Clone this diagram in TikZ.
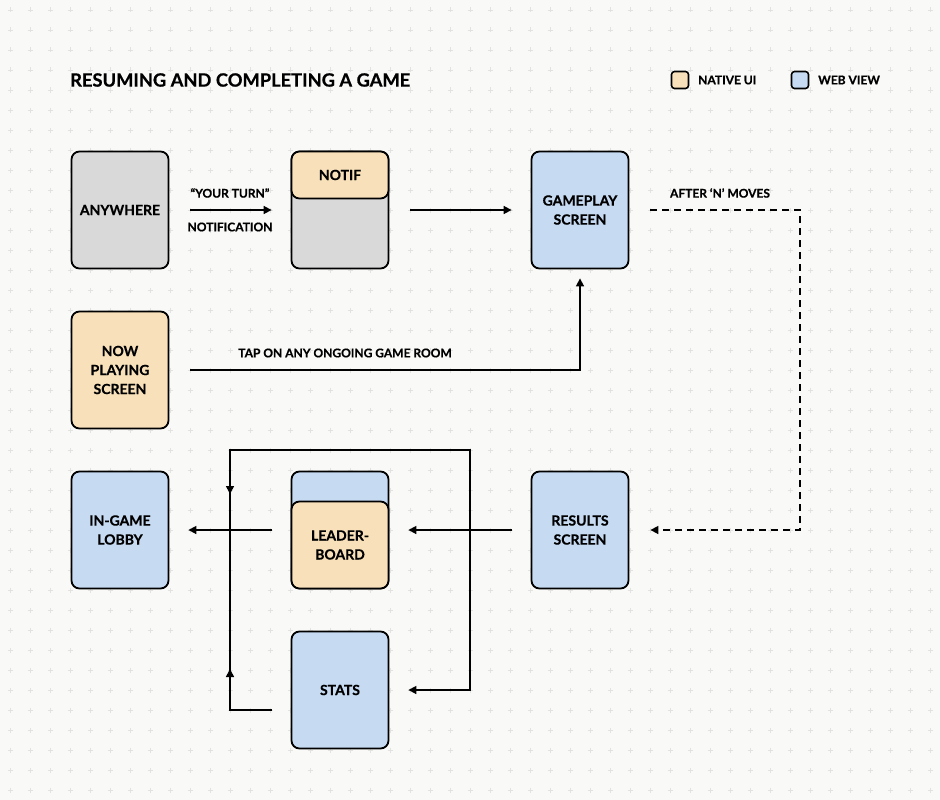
\documentclass[tikz,border=0pt]{standalone}
\usepackage{fontspec}
\setmainfont{Lato}[BoldFeatures={FakeBold=0.6}]
\usetikzlibrary{arrows.meta}
\definecolor{bgc}{HTML}{F9F9F7}
\definecolor{gridc}{HTML}{E2E2E0}
\definecolor{grayc}{HTML}{D9D9D9}
\definecolor{orangec}{HTML}{F8E1BA}
\definecolor{bluec}{HTML}{C6DAF2}
\tikzset{
  box/.style={draw=black, line width=1.8pt, rounded corners=8pt, minimum width=97pt, minimum height=117pt, inner sep=0pt, align=center, font=\bfseries\fontsize{14}{19}\selectfont},
  lbl/.style={font=\bfseries\fontsize{12}{16}\selectfont, inner sep=0pt},
  conn/.style={line width=1.6pt, -{Triangle[length=8pt,width=8pt]}},
  plain/.style={line width=1.6pt},
  legsq/.style={draw=black, line width=1.6pt, rounded corners=3pt, minimum width=17pt, minimum height=17pt, inner sep=0pt},
}
\begin{document}
\begin{tikzpicture}[x=1pt,y=-1pt]
\fill[bgc] (0,0) rectangle (940,800);
\useasboundingbox (0,0) rectangle (940,800);
\foreach \x in {10,30,...,930}{
  \foreach \y in {10,30,...,790}{
    \draw[gridc, line width=0.8pt] (\x-2.5,\y) -- (\x+2.5,\y) (\x,\y-2.5) -- (\x,\y+2.5);
  }
}
% title and legend
\node[anchor=west, inner sep=0pt, font=\bfseries\fontsize{18.3}{22}\selectfont] (title) at (70,80) {RESUMING AND COMPLETING A GAME};
\node[legsq, fill=orangec] (legnat) at (680,80) {};
\node[anchor=west, lbl] (legnattxt) at (698,80) {NATIVE UI};
\node[legsq, fill=bluec] (legweb) at (800,80) {};
\node[anchor=west, lbl] (legwebtxt) at (818,80) {WEB VIEW};
% boxes
\node[box, fill=grayc] (any) at (120,210) {ANYWHERE};
\node[box, fill=grayc] (notifbg) at (340,210) {};
\node[box, fill=orangec, minimum height=47pt] (notif) at (340,175) {NOTIF};
\node[box, fill=bluec] (game) at (580,210) {GAMEPLAY\\SCREEN};
\node[box, fill=orangec] (now) at (120,370) {NOW\\PLAYING\\SCREEN};
\node[box, fill=bluec] (lobby) at (120,530) {IN-GAME\\LOBBY};
\node[box, fill=bluec] (lbback) at (340,530) {};
\node[box, fill=orangec, minimum height=87pt] (lb) at (340,545) {LEADER-\\BOARD};
\node[box, fill=bluec] (results) at (580,530) {RESULTS\\SCREEN};
\node[box, fill=bluec] (stats) at (340,690) {STATS};
% connectors
\draw[conn] ([xshift=21pt]any.east) -- ([xshift=-19pt]notifbg.west);
\node[lbl] (yt) at (230,193) {“YOUR TURN”};
\node[lbl] (ntf) at (230,227) {NOTIFICATION};
\draw[conn] ([xshift=21pt]notifbg.east) -- ([xshift=-19pt]game.west);
\draw[conn] ([xshift=21pt]now.east) -| ([yshift=-9pt]game.south);
\node[lbl] (tap) at (345,353) {TAP ON ANY ONGOING GAME ROOM};
\draw[conn, dashed, dash pattern=on 7pt off 5pt] ([xshift=21pt]game.east) -- (800,210) -- (800,530) -- ([xshift=21pt]results.east);
\node[lbl] (after) at (720,193) {AFTER ‘N’ MOVES};
\draw[conn] ([xshift=-19pt]results.west) -- ([xshift=19pt,yshift=15pt]lb.east);
\draw[conn] ([xshift=-19pt,yshift=15pt]lb.west) -- ([xshift=19pt]lobby.east);
\coordinate (br) at (470,530);
\coordinate (tr) at (470,450);
\coordinate (tl) at (230,450);
\coordinate (ml) at (230,530);
\coordinate (bl) at (230,710);
\draw[plain] (br) -- (tr) -- (tl) -- (ml);
\draw[conn] (tl) -- (230,494);
\draw[conn] (br) |- ([xshift=19pt]stats.east);
\draw[plain] ([xshift=-19pt,yshift=-20pt]stats.west) -- (bl) -- (ml);
\draw[conn] (bl) -- (230,669);
\end{tikzpicture}
\end{document}
